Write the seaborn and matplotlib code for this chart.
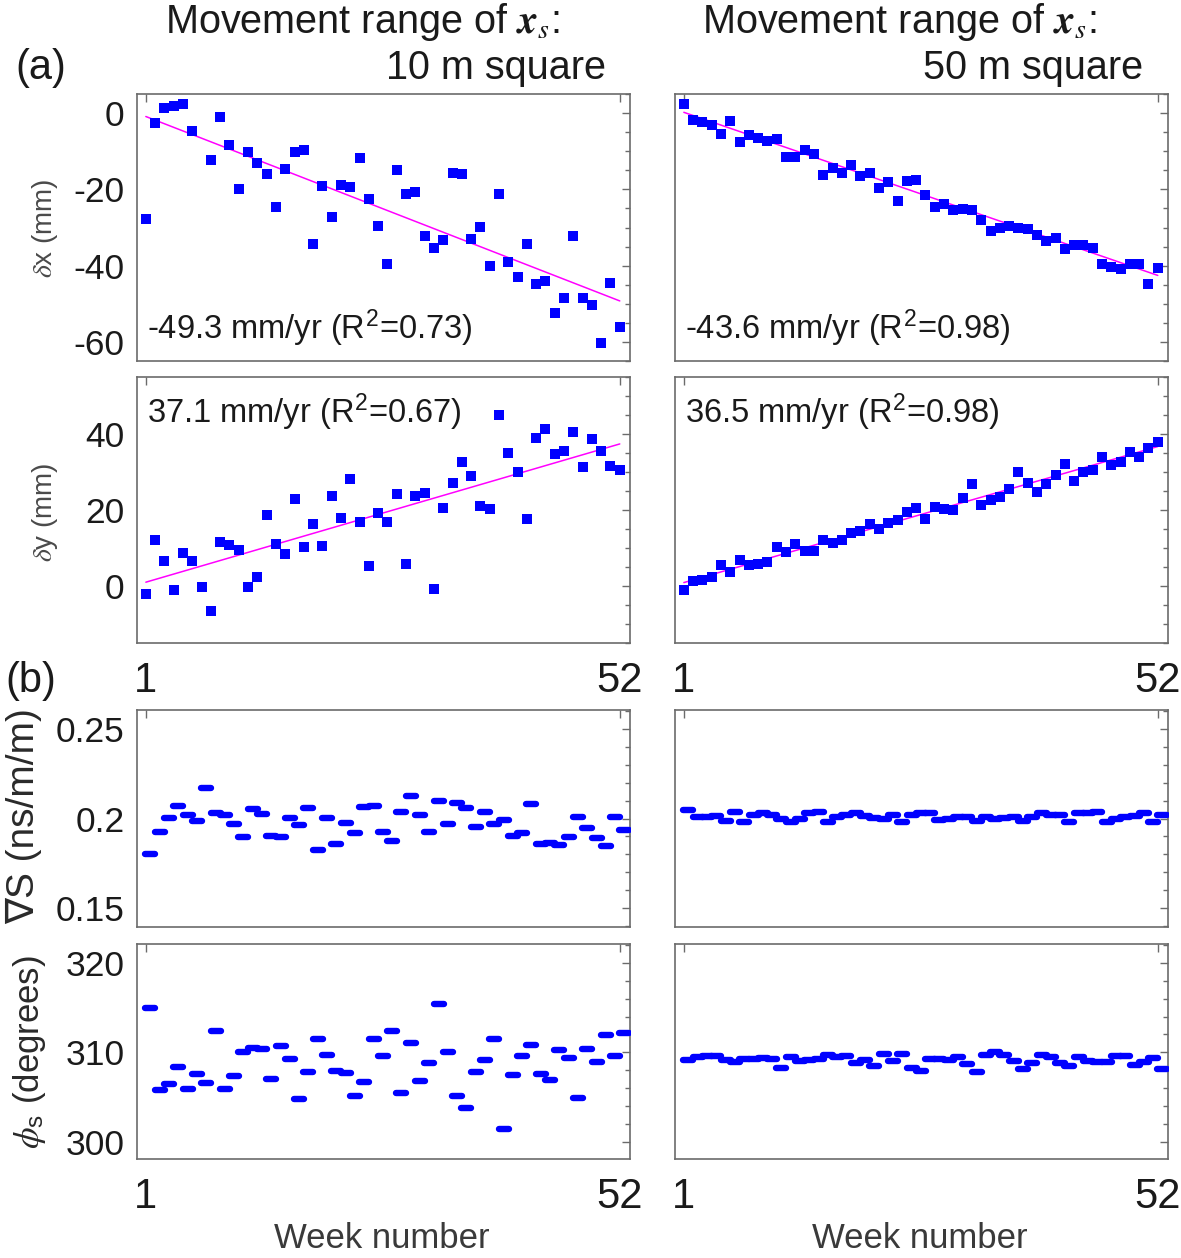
import numpy as np
import matplotlib
matplotlib.use("Agg")
import matplotlib.pyplot as plt
from matplotlib.ticker import MultipleLocator, FixedLocator, FuncFormatter
import seaborn as sns

# ---------------- data ----------------
weeks = np.arange(1, 53)
week_ticks = [1, 52]
nan = np.nan

dx_10m = [-27.8, -2.5, 1.3, 1.8, 2.4, -4.6, nan, -12.3, -1.0, -8.5,
          -20.0, -10.2, -13.2, -16.1, -24.6, -14.7, -10.2, -9.6, -34.4, -19.1,
          -27.2, -18.9, -19.5, -11.9, -22.6, -29.6, -39.7, -14.9, -21.1, -20.7,
          -32.2, -35.4, -33.2, -15.6, -16.1, -32.9, -29.8, -40.0, -21.2, -39.1,
          -43.1, -34.4, -44.8, -44.1, -52.3, -48.4, -32.2, -48.4, -50.2, -60.4,
          -44.5, -56.2]
dx_50m = [2.5, -1.8, -2.4, -3.0, -5.4, -2.1, -7.5, -5.7, -6.6, -7.2,
          -6.9, -11.5, -11.5, -9.6, -10.8, -16.2, -14.3, -15.8, -13.7, -16.5,
          -15.8, -19.7, -18.1, -23.0, -17.8, -17.5, -21.5, -24.5, -23.9, -25.4,
          -25.1, -25.4, -28.0, -30.9, -30.0, -29.6, -30.0, -30.4, -32.0, -33.5,
          -32.8, -35.6, -34.6, -34.6, -35.3, -39.5, -40.4, -41.0, -39.5, -39.5,
          -44.7, -40.7]
dy_10m = [-2.0, 12.1, 6.7, -1.0, 8.6, 6.7, -0.3, -6.5, 11.5, 10.9,
          9.6, -0.3, 2.5, 18.6, 11.1, 8.5, 22.8, 10.3, 16.3, 10.5,
          23.8, 18.0, 28.2, 16.8, 5.2, 19.3, 16.8, 24.3, 5.8, 23.7,
          24.6, -0.7, 20.4, 27.0, 32.6, 29.0, 21.0, 20.2, 44.9, 35.1,
          30.0, 17.7, 38.9, 41.3, 34.7, 35.4, 40.4, 31.2, 38.6, 35.4,
          31.5, 30.6]
dy_50m = [-1.1, 1.3, 1.5, 2.4, 5.4, 3.7, 6.9, 5.4, 5.7, 6.3,
          10.2, 8.9, 11.1, 9.3, 9.3, 12.0, 11.3, 12.2, 13.9, 14.4,
          16.3, 14.9, 16.5, 17.4, 19.4, 20.5, 17.6, 20.7, 20.3, 20.0,
          23.1, 26.8, 21.4, 22.6, 23.3, 25.5, 29.9, 27.2, 24.8, 26.8,
          29.3, 32.2, 27.7, 29.9, 30.5, 34.0, 31.9, 32.7, 35.3, 34.0,
          36.4, 37.9]
grad_10m = [0.1803, 0.1922, 0.2002, 0.2067, 0.2019, 0.1985, 0.2169, 0.2033, 0.2020, 0.1970,
            0.1896, 0.2054, 0.2024, 0.1903, 0.1896, 0.2004, 0.1965, 0.2058, 0.1823, 0.2002,
            0.1857, 0.1974, 0.1918, 0.2063, 0.2067, 0.1926, 0.1872, 0.2039, 0.2123, 0.2019,
            0.1926, 0.2095, 0.1968, 0.2084, 0.2059, 0.1950, 0.2037, 0.1970, 0.1993, 0.1900,
            0.1918, 0.2082, 0.1859, 0.1862, 0.1853, 0.1896, 0.2011, 0.1948, 0.1894, 0.1844,
            0.2011, 0.1935]
grad_50m = [0.2046, 0.2006, 0.2009, 0.2015, 0.1985, 0.2037, 0.1981, 0.2019, 0.2028, 0.2019,
            0.2000, 0.1981, 0.2000, 0.2028, 0.2037, 0.1978, 0.2009, 0.2022, 0.2028, 0.2015,
            0.2004, 0.2000, 0.2019, 0.1978, 0.2019, 0.2031, 0.2028, 0.1991, 0.2000, 0.2009,
            0.2009, 0.1985, 0.2009, 0.1996, 0.2004, 0.2009, 0.1985, 0.2009, 0.2028, 0.2022,
            0.2019, 0.1981, 0.2028, 0.2033, 0.2037, 0.1981, 0.2000, 0.2006, 0.2015, 0.2031,
            0.1981, 0.2019]
phi_10m = [315.0, 305.8, 306.5, 308.4, 305.9, 307.6, 306.6, 312.4, 305.9, 307.4,
           310.1, 310.5, 310.4, 307.0, 310.7, 309.3, 304.8, 307.8, 311.5, 309.7,
           307.9, 307.7, 305.1, 306.7, 311.5, 309.6, 312.4, 305.5, 311.1, 306.8,
           308.8, 315.4, 310.0, 305.1, 303.8, 307.8, 309.1, 311.5, 301.5, 307.5,
           309.6, 310.8, 307.6, 306.9, 310.3, 309.4, 304.9, 310.4, 308.9, 311.9,
           309.6, 312.2]
phi_50m = [309.2, 309.5, 309.6, 309.6, 309.2, 308.9, 309.3, 309.3, 309.4, 309.3,
           308.3, 309.5, 309.0, 309.1, 309.3, 309.7, 309.5, 309.6, 308.8, 309.2,
           308.5, 309.8, 309.0, 309.8, 308.3, 307.9, 309.3, 309.3, 309.1, 309.5,
           308.7, 307.8, 309.7, 310.0, 309.7, 309.0, 308.1, 308.8, 309.7, 309.5,
           308.8, 308.5, 309.5, 309.0, 308.9, 308.9, 309.6, 309.6, 308.6, 308.9,
           309.4, 308.2]

# linear fits: rate (mm/yr), R^2, fitted value at week 1 (mm)
fit_rate_dx = [-49.3, -43.6]
fit_r2_dx = [0.73, 0.98]
fit_start_dx = [-0.9, 0.2]
fit_rate_dy = [37.1, 36.5]
fit_r2_dy = [0.67, 0.98]
fit_start_dy = [1.0, 0.9]

col_titles = ["10 m square", "50 m square"]

# ---------------- style ----------------
sns.set_theme(style="white")
plt.rcParams["font.family"] = ["Liberation Sans", "DejaVu Sans"]
plt.rcParams["mathtext.fontset"] = "stix"

BLUE = "#0000FF"
MAGENTA = "#FF00FF"
SPINE = "#6b6b6b"
TXT = "#1a1a1a"

W, H = 1181, 1258
fig = plt.figure(figsize=(W / 100, H / 100), dpi=100)
fig.patch.set_facecolor("white")

cols_px = [(137, 630), (675, 1168)]
rows_px = [(94, 361), (377, 643), (710, 927), (944, 1159)]


def make_ax(c, r):
    x0, x1 = cols_px[c]
    y0, y1 = rows_px[r]
    return fig.add_axes([x0 / W, 1 - y1 / H, (x1 - x0) / W, (y1 - y0) / H])


fmt = FuncFormatter(lambda v, p: f"{v:g}")


def style(ax, ylim, major, minor, show_y, show_x):
    ax.set_xlim(0.05, 53.1)
    ax.set_ylim(*ylim)
    ax.xaxis.set_major_locator(FixedLocator(week_ticks))
    ax.yaxis.set_major_locator(MultipleLocator(major))
    ax.yaxis.set_minor_locator(MultipleLocator(minor))
    ax.yaxis.set_major_formatter(fmt)
    ax.xaxis.set_major_formatter(fmt)
    for s in ax.spines.values():
        s.set_color(SPINE)
        s.set_linewidth(1.2)
    ax.tick_params(axis="both", which="both", direction="in", top=True, right=True,
                   color=SPINE, width=1.0)
    ax.tick_params(axis="both", which="major", length=6)
    ax.tick_params(axis="y", which="minor", length=3.5)
    ax.tick_params(axis="y", labelsize=25.5, pad=9, labelcolor=TXT, labelleft=show_y)
    ax.tick_params(axis="x", labelsize=30, pad=13, labelcolor=TXT, labelbottom=show_x)
    ax.set_xlabel("")
    ax.set_ylabel("")
    ax.set_facecolor("white")
    ax.grid(False)


dx_sets = [dx_10m, dx_50m]
dy_sets = [dy_10m, dy_50m]
grad_sets = [grad_10m, grad_50m]
phi_sets = [phi_10m, phi_50m]

for c in range(2):
    # --- delta x ---
    ax = make_ax(c, 0)
    sns.scatterplot(x=weeks, y=dx_sets[c], ax=ax, marker="s", s=52, color=BLUE,
                    linewidth=0, zorder=3)
    fit = fit_start_dx[c] + fit_rate_dx[c] / 52 * (weeks - 1)
    sns.lineplot(x=weeks, y=fit, ax=ax, color=MAGENTA, linewidth=1.1, zorder=2)
    ax.text(0.02, 0.125, f"{fit_rate_dx[c]} mm/yr (R$^{{\\mathregular{{2}}}}$={fit_r2_dx[c]:.2f})",
            transform=ax.transAxes, va="center", ha="left", fontsize=23.5, color=TXT)
    style(ax, (-65, 5), 20, 5, c == 0, False)

    # --- delta y ---
    ax = make_ax(c, 1)
    sns.scatterplot(x=weeks, y=dy_sets[c], ax=ax, marker="s", s=52, color=BLUE,
                    linewidth=0, zorder=3)
    fit = fit_start_dy[c] + fit_rate_dy[c] / 52 * (weeks - 1)
    sns.lineplot(x=weeks, y=fit, ax=ax, color=MAGENTA, linewidth=1.1, zorder=2)
    ax.text(0.02, 0.87, f"{fit_rate_dy[c]} mm/yr (R$^{{\\mathregular{{2}}}}$={fit_r2_dy[c]:.2f})",
            transform=ax.transAxes, va="center", ha="left", fontsize=23.5, color=TXT)
    style(ax, (-15, 55), 20, 5, c == 0, True)

    # --- gradient ---
    ax = make_ax(c, 2)
    sns.scatterplot(x=weeks + 0.5, y=grad_sets[c], ax=ax, marker="_", s=50,
                    color=BLUE, linewidth=4.6, capstyle="round", zorder=3)
    style(ax, (0.1395, 0.2605), 0.05, 0.01, c == 0, False)

    # --- azimuth ---
    ax = make_ax(c, 3)
    sns.scatterplot(x=weeks + 0.5, y=phi_sets[c], ax=ax, marker="_", s=50,
                    color=BLUE, linewidth=4.6, capstyle="round", zorder=3)
    style(ax, (298.1, 322.1), 10, 2, c == 0, True)

# ---------------- labels / titles ----------------
title_centers = [362, 899]
title_rights = [606, 1143]
for c in range(2):
    fig.text(title_centers[c] / W, 1 - 22 / H, r"Movement range of $\mathbfit{x}_{s}$:",
             ha="center", va="center", fontsize=28.5, color=TXT)
    fig.text(title_rights[c] / W, 1 - 68 / H, col_titles[c],
             ha="right", va="center", fontsize=28.5, color=TXT)
    fig.text(((cols_px[c][0] + cols_px[c][1]) / 2 - 2) / W, 1 - 1238 / H, "Week number",
             ha="center", va="center", fontsize=25, color="#3a3a3a")

fig.text(41 / W, 1 - 68 / H, "(a)", ha="center", va="center", fontsize=30, color=TXT)
fig.text(31 / W, 1 - 681 / H, "(b)", ha="center", va="center", fontsize=30, color=TXT)

fig.text(45 / W, 1 - 228 / H, r"$\delta$x (mm)", rotation=90, ha="center", va="center",
         fontsize=20, color="#4a4a4a")
fig.text(45 / W, 1 - 512 / H, r"$\delta$y (mm)", rotation=90, ha="center", va="center",
         fontsize=20, color="#4a4a4a")
fig.text(24 / W, 1 - 816 / H, "\u2207S (ns/m/m)", rotation=90, ha="center", va="center",
         fontsize=28, color="#2a2a2a")
fig.text(30 / W, 1 - 1052 / H, r"$\phi_{\mathregular{s}}$ (degrees)", rotation=90,
         ha="center", va="center", fontsize=25, color="#2a2a2a")

fig.savefig("out.png", dpi=100, facecolor="white")
